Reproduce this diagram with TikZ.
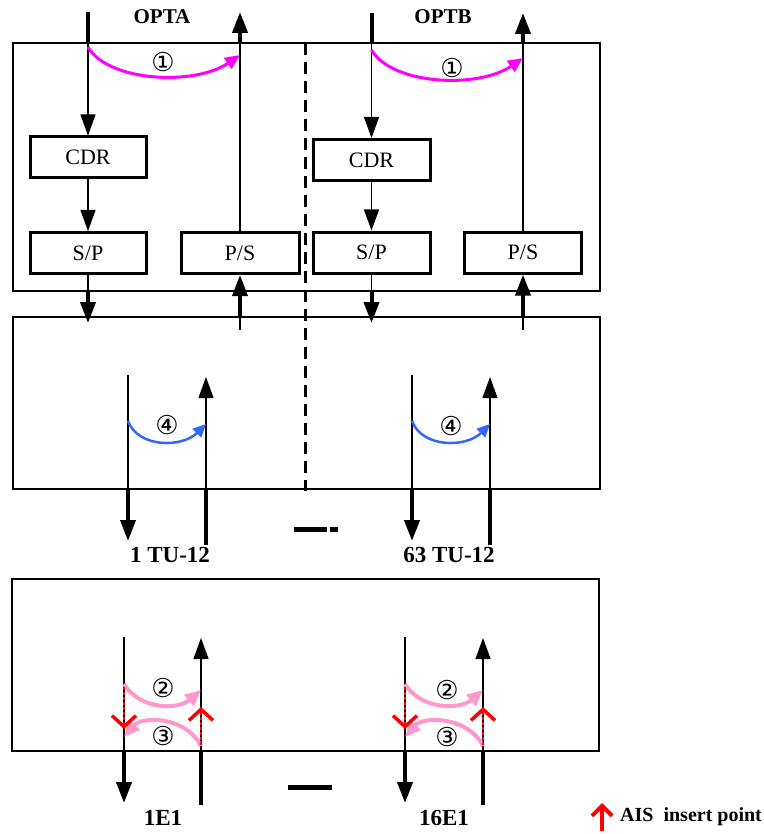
\documentclass[tikz,border=0pt]{standalone}
\usepackage{fontspec}
\setmainfont{Liberation Serif}
\newfontfamily\circfont{DejaVu Sans}
\usetikzlibrary{arrows.meta,calc}
\definecolor{mag}{RGB}{255,0,255}
\definecolor{bluearc}{RGB}{51,102,255}
\definecolor{pinkarc}{RGB}{255,153,204}
\tikzset{
  frame/.style={draw, line width=1.6pt, inner sep=0pt},
  blk/.style={draw, line width=3pt, inner sep=0pt, minimum height=41pt, font=\fontsize{22}{22}\selectfont},
  thinln/.style={line width=1.3pt},
  thickln/.style={line width=4pt},
  bigtip/.style={-{Triangle[width=15pt,length=21pt]}},
  magln/.style={draw=mag, line width=3pt, -{Triangle[width=13pt,length=15pt]}},
  blueln/.style={draw=bluearc, line width=2.5pt, -{Triangle[width=12pt,length=13pt]}},
  pinkln/.style={draw=pinkarc, line width=4pt, -{Triangle[width=14pt,length=16pt]}},
  reddot/.style={draw=red, line width=2pt, dash pattern=on 3pt off 2pt, -{Straight Barb[width=24pt,length=11pt,line width=3.5pt]}},
  circ/.style={font=\circfont\fontsize{26}{26}\selectfont, inner sep=0pt},
  boldlbl/.style={font=\bfseries\fontsize{23}{23}\selectfont, inner sep=0pt},
  titlelbl/.style={font=\bfseries\fontsize{21}{21}\selectfont, inner sep=0pt},
  dashln/.style={line width=3pt, dash pattern=on 12pt off 7pt},
}
\begin{document}
\begin{tikzpicture}[x=1pt,y=-1pt]
\fill[white] (0,0) rectangle (763,834);
\useasboundingbox (0,0) rectangle (763,834);

% frames
\node[frame, minimum width=587pt, minimum height=248pt] (topbox) at (306.5,167) {};
\node[frame, minimum width=587pt, minimum height=172pt] (midbox) at (306.5,403) {};
\node[frame, minimum width=587pt, minimum height=172pt] (botbox) at (305.5,665) {};

% dashed divider
\coordinate (dashT) at (305,43);
\coordinate (dashB) at (305,491);
\draw[dashln] (dashT) -- (dashB);

% titles
\node[titlelbl] (optA) at (162,17) {OPTA};
\node[titlelbl] (optB) at (443,17) {OPTB};

% ---------- OPT A blocks ----------
\node[blk, minimum width=116pt] (cdrA) at (88,157.5) {CDR};
\node[blk, minimum width=116pt] (spA) at (88,253) {S/P};
\node[blk, minimum width=118pt] (psA) at (240,253) {P/S};

\coordinate (inA) at (88,12);
\coordinate (outA) at (240,12);
\draw[thickln] (inA) -- (inA |- topbox.north);
\draw[thinln, bigtip] (inA |- topbox.north) -- (cdrA.north);
\draw[thinln, bigtip] (cdrA.south) -- (spA.north);
\draw[thinln] (spA.south) -- (spA.south |- topbox.south);
\coordinate (dnA) at (88,323);
\draw[thickln, bigtip] (spA.south |- topbox.south) -- (dnA);
\coordinate (upA) at (240,330);
\draw[thinln] (upA) -- (upA |- midbox.north);
\draw[thickln, bigtip] (upA |- midbox.north) -- (psA.south);
\draw[thinln] (psA.north) -- (psA.north |- topbox.north);
\draw[thickln, bigtip] (psA.north |- topbox.north) -- (outA);

\coordinate (mA1) at (88,47);
\coordinate (mA2) at (240,55);
\draw[magln] (mA1) .. controls (108,82) and (195,86) .. (mA2);
\node[circ] (n1A) at (163,62) {①};

% ---------- OPT B blocks ----------
\node[blk, minimum width=117pt] (cdrB) at (371.5,160) {CDR};
\node[blk, minimum width=117pt] (spB) at (371.5,252.5) {S/P};
\node[blk, minimum width=117pt] (psB) at (523,252.5) {P/S};

\coordinate (inB) at (371.5,13);
\coordinate (outB) at (523,13);
\draw[thickln] (inB) -- (inB |- topbox.north);
\draw[thinln, bigtip] (inB |- topbox.north) -- (cdrB.north);
\draw[thinln, bigtip] (cdrB.south) -- (spB.north);
\draw[thinln] (spB.south) -- (spB.south |- topbox.south);
\coordinate (dnB) at (371.5,323);
\draw[thickln, bigtip] (spB.south |- topbox.south) -- (dnB);
\coordinate (upB) at (523,330);
\draw[thinln] (upB) -- (upB |- midbox.north);
\draw[thickln, bigtip] (upB |- midbox.north) -- (psB.south);
\draw[thinln] (psB.north) -- (psB.north |- topbox.north);
\draw[thickln, bigtip] (psB.north |- topbox.north) -- (outB);

\coordinate (mB1) at (371.5,50);
\coordinate (mB2) at (523,58);
\draw[magln] (mB1) .. controls (392,85) and (478,89) .. (mB2);
\node[circ] (n1B) at (452,68) {①};

% ---------- middle box: TU-12 ----------
% pair 1
\coordinate (tu1Lt) at (128,375);
\coordinate (tu1Lb) at (128,541);
\coordinate (tu1Rt) at (206,377);
\coordinate (tu1Rb) at (206,545);
\draw[thinln] (tu1Lt) -- (tu1Lt |- midbox.south);
\draw[thickln, bigtip] (tu1Lt |- midbox.south) -- (tu1Lb);
\draw[thickln] (tu1Rb) -- (tu1Rb |- midbox.south);
\draw[thinln, bigtip] (tu1Rb |- midbox.south) -- (tu1Rt);
\coordinate (b1s) at (128,421);
\coordinate (b1e) at (206,424);
\draw[blueln] (b1s) .. controls (138,448) and (182,448) .. (b1e);
\node[circ] (n4A) at (167,425) {④};
\node[boldlbl] (lbl1tu) at (170,555) {1 TU-12};

% pair 63
\coordinate (tu2Lt) at (412,375);
\coordinate (tu2Lb) at (412,541);
\coordinate (tu2Rt) at (490,377);
\coordinate (tu2Rb) at (490,545);
\draw[thinln] (tu2Lt) -- (tu2Lt |- midbox.south);
\draw[thickln, bigtip] (tu2Lt |- midbox.south) -- (tu2Lb);
\draw[thickln] (tu2Rb) -- (tu2Rb |- midbox.south);
\draw[thinln, bigtip] (tu2Rb |- midbox.south) -- (tu2Rt);
\coordinate (b2s) at (412,421);
\coordinate (b2e) at (490,424);
\draw[blueln] (b2s) .. controls (422,448) and (466,448) .. (b2e);
\node[circ] (n4B) at (451,426) {④};
\node[boldlbl] (lbl63tu) at (449,555) {63 TU-12};

% ellipsis dash between TU-12
\coordinate (d1a) at (294,529);
\coordinate (d1b) at (327,529);
\coordinate (d1c) at (330,529);
\coordinate (d1d) at (338,529);
\draw[line width=5pt] (d1a) -- (d1b);
\draw[line width=5pt] (d1c) -- (d1d);

% ---------- bottom box: E1 ----------
% pair 1E1
\coordinate (e1Lt) at (124,637);
\coordinate (e1Lb) at (124,803);
\coordinate (e1Rt) at (201,638);
\coordinate (e1Rb) at (201,805);
\draw[thinln] (e1Lt) -- (e1Lt |- botbox.south);
\draw[thickln, bigtip] (e1Lt |- botbox.south) -- (e1Lb);
\draw[thickln] (e1Rb) -- (e1Rb |- botbox.south);
\draw[thinln, bigtip] (e1Rb |- botbox.south) -- (e1Rt);
\coordinate (p2s) at (124,684);
\coordinate (p2e) at (201,690);
\draw[pinkln] (p2s) .. controls (140,710) and (178,710) .. (p2e);
\coordinate (p3s) at (201,746);
\coordinate (p3e) at (124,737);
\draw[pinkln] (p3s) .. controls (186,716) and (142,716) .. (p3e);
\node[circ] (n2A) at (163,688) {②};
\node[circ] (n3A) at (163,736) {③};
\coordinate (r1a) at (124,687);
\coordinate (r1b) at (124,729);
\draw[reddot] (r1a) -- (r1b);
\coordinate (r2a) at (201,745);
\coordinate (r2b) at (201,707);
\draw[reddot] (r2a) -- (r2b);
\node[boldlbl] (lbl1e1) at (163,818) {1E1};

% pair 16E1
\coordinate (e2Lt) at (405,637);
\coordinate (e2Lb) at (405,803);
\coordinate (e2Rt) at (483,638);
\coordinate (e2Rb) at (483,805);
\draw[thinln] (e2Lt) -- (e2Lt |- botbox.south);
\draw[thickln, bigtip] (e2Lt |- botbox.south) -- (e2Lb);
\draw[thickln] (e2Rb) -- (e2Rb |- botbox.south);
\draw[thinln, bigtip] (e2Rb |- botbox.south) -- (e2Rt);
\coordinate (q2s) at (405,684);
\coordinate (q2e) at (483,690);
\draw[pinkln] (q2s) .. controls (421,710) and (460,710) .. (q2e);
\coordinate (q3s) at (483,746);
\coordinate (q3e) at (405,737);
\draw[pinkln] (q3s) .. controls (468,716) and (423,716) .. (q3e);
\node[circ] (n2B) at (447,690) {②};
\node[circ] (n3B) at (447,737) {③};
\coordinate (s1a) at (405,687);
\coordinate (s1b) at (405,729);
\draw[reddot] (s1a) -- (s1b);
\coordinate (s2a) at (483,745);
\coordinate (s2b) at (483,707);
\draw[reddot] (s2a) -- (s2b);
\node[boldlbl] (lbl16e1) at (444,818) {16E1};

% dash between E1
\coordinate (d2a) at (288,787);
\coordinate (d2b) at (332,787);
\draw[line width=5pt] (d2a) -- (d2b);

% legend
\coordinate (legA) at (602,831);
\coordinate (legB) at (602,803);
\draw[red, line width=4pt, -{Straight Barb[width=20pt,length=10pt,line width=4pt]}] (legA) -- (legB);
\node[font=\bfseries\fontsize{20}{20}\selectfont, anchor=west, inner sep=0pt] (legtxt) at (620,817) {AIS\ \ insert point};
\end{tikzpicture}
\end{document}
